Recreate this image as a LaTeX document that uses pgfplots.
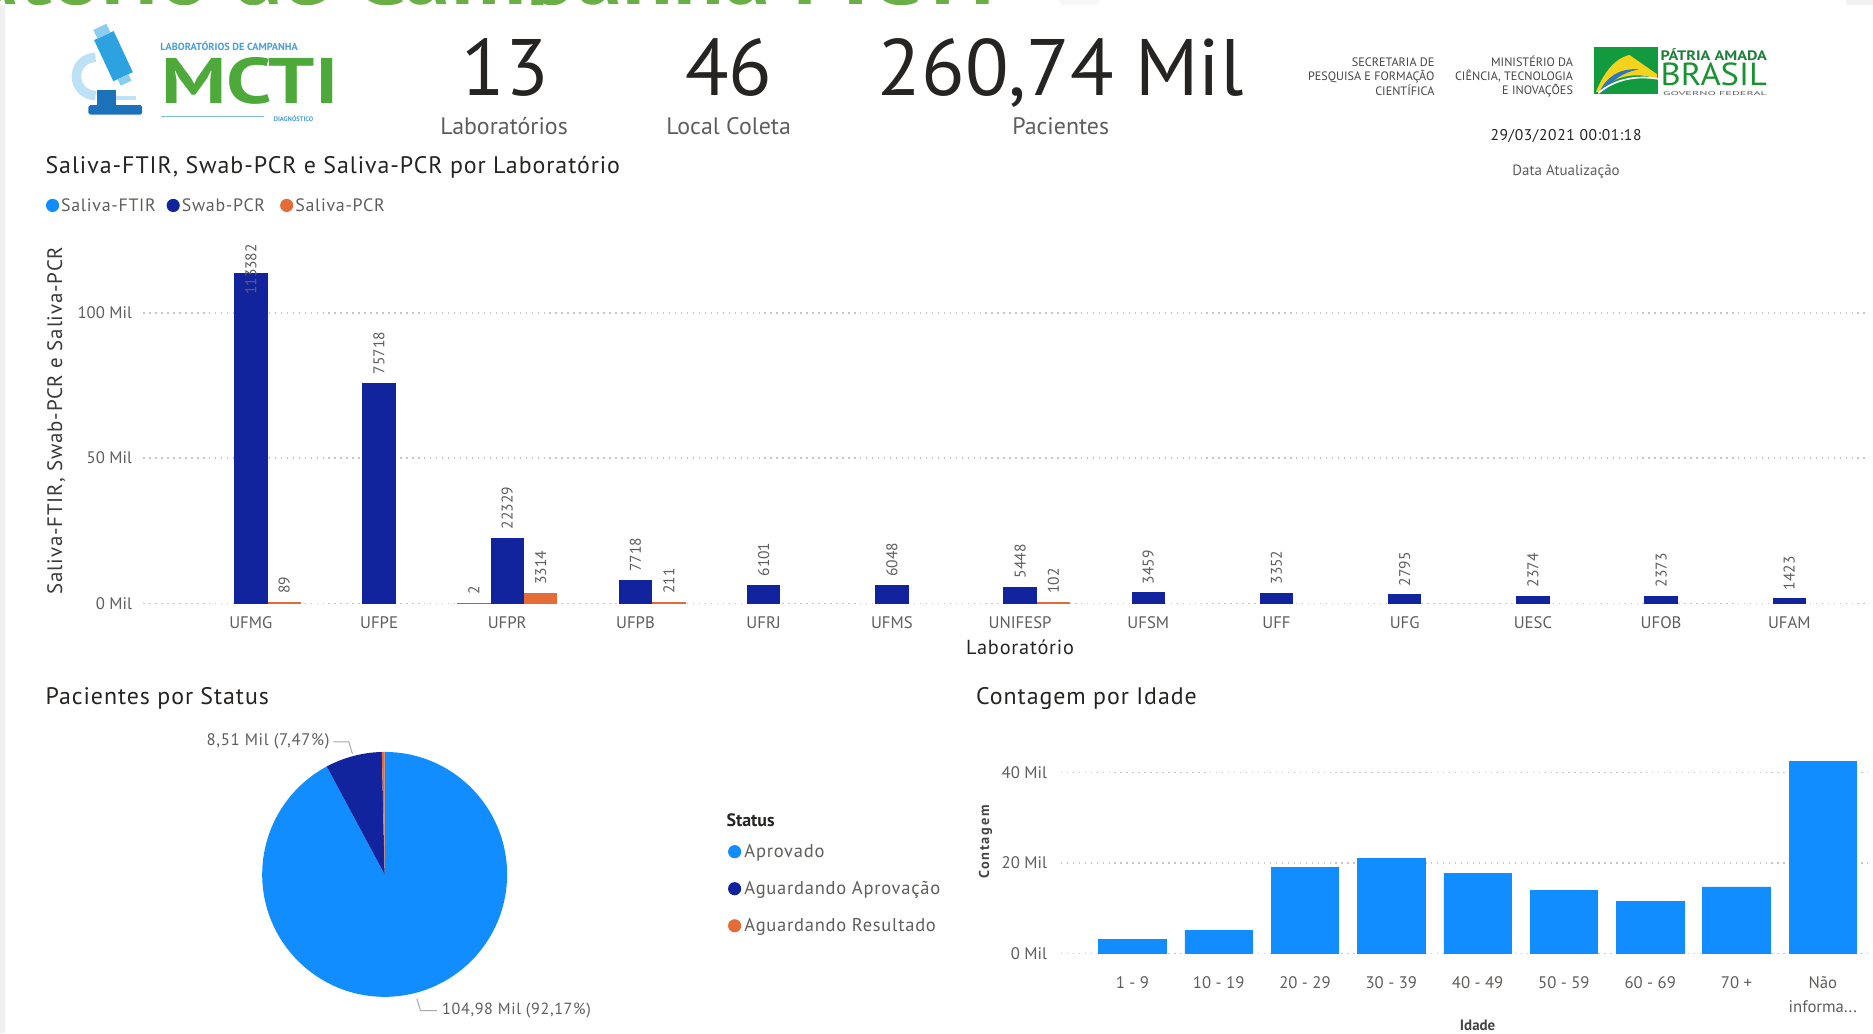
\documentclass[border=0pt]{standalone}
\usepackage{fontspec}
\setmainfont{PT Sans}
\newfontfamily\wide[LetterSpace=4]{PT Sans}
\newfontfamily\xwide[LetterSpace=12]{PT Sans}
\usepackage{pgfplots}
\pgfplotsset{compat=1.18}
\definecolor{cA}{HTML}{118DFF}
\definecolor{cB}{HTML}{12239E}
\definecolor{cC}{HTML}{E66C37}
\definecolor{txt}{HTML}{252423}
\definecolor{lab}{HTML}{605E5C}
\definecolor{gridc}{HTML}{C8C6C4}
\definecolor{tgreen}{HTML}{6AAF45}
\definecolor{mgreen}{HTML}{4DAA3A}
\definecolor{lblue}{HTML}{4A9FD8}
\definecolor{tube}{HTML}{2CA3E0}
\definecolor{arm}{HTML}{BDE2F6}
\definecolor{basec}{HTML}{1C72BA}
\definecolor{bgreen}{HTML}{1F7F3B}
\definecolor{fgreen}{HTML}{149A3E}
\definecolor{fyellow}{HTML}{F4D31C}
\definecolor{fblue}{HTML}{2E77BD}
\newcommand\fs[1]{\fontsize{#1}{#1}\selectfont}
\pgfplotsset{pbi/.style={scale only axis, ybar, clip=false,
  axis line style={draw=none}, major tick length=0pt, tick style={draw=none},
  scaled y ticks=false,
  ymajorgrids, grid style={draw=gridc, line width=1pt, dash pattern=on 1.2pt off 3.8pt},
  tick label style={text=lab, font=\fs{14}}}}
\begin{document}
\begin{tikzpicture}
\useasboundingbox (0,0) rectangle (1568pt,865pt);
\fill[white] (0,0) rectangle (1568pt,865pt);
\begin{scope}[x=1pt,y=-1pt,yshift=865pt]
% cut-off report title
\node[anchor=base east, inner sep=0, text=tgreen, font=\fs{78}\bfseries] at (834,3.8) {Relatório de Campanha MCTI};
\fill[black!3] (886,0) -- (921,0) -- (917,5) -- (890,5) -- cycle;
\fill[black!5] (1545,0) rectangle (1568,5);
\fill[white] (0,4.6) rectangle (1568,865);
\fill[black!6] (0,4.6) rectangle (4,865);
% microscope logo
\draw[arm, line width=8pt] (80,80) arc[start angle=90, end angle=270, radius=16];
\fill[arm] (92,80) rectangle (114,84);
\begin{scope}[shift={(95,47)}, rotate=25]
\fill[tube] (-9,-19) rectangle (9,19);
\fill[tube!55] (-6,-27) rectangle (6,-19);
\fill[tube!55] (-5,19) rectangle (5,25);
\end{scope}
\fill[basec] (81,75) rectangle (97,89);
\fill[basec, rounded corners=1.5pt] (74,88) rectangle (119,96);
\node[anchor=west, inner sep=0, text=lblue, font=\fs{8.6}\bfseries] at (134,38.5) {LABORATÓRIOS DE CAMPANHA};
\node[anchor=south west, inner sep=0, text=mgreen] at (135,87.5) {\resizebox{148pt}{38.5pt}{\bfseries MCTI}};
\draw[lblue!70, line width=1pt] (135,97.5) -- (221,97.5);
\node[anchor=west, inner sep=0, text=lblue, font=\fs{5.5}\bfseries] at (229,99) {DIAGNÓSTICO};
% KPI cards
\node[anchor=base, inner sep=0, text=txt, font=\fs{67}] at (423,80) {13};
\node[anchor=base, inner sep=0, text=txt, font=\fs{67}] at (610,80) {46};
\node[anchor=base, inner sep=0, text=txt, font=\fs{67}] at (888,80) {260,74 Mil};
\node[anchor=base, inner sep=0, text=lab, font=\fs{20}] at (422,113) {Laboratórios};
\node[anchor=base, inner sep=0, text=lab, font=\fs{20}] at (610,113) {Local Coleta};
\node[anchor=base, inner sep=0, text=lab, font=\fs{20}] at (888,113) {Pacientes};
% government logos
\node[anchor=east, align=right, inner sep=0, text=txt!85, font=\fontsize{10.2}{12}\selectfont] at (1201,64) {SECRETARIA DE\\PESQUISA E FORMAÇÃO\\CIENTÍFICA};
\node[anchor=east, align=right, inner sep=0, text=txt!85, font=\fontsize{10.2}{12}\selectfont] at (1317,64) {MINISTÉRIO DA\\CIÊNCIA, TECNOLOGIA\\E INOVAÇÕES};
\fill[fgreen] (1334,39) rectangle (1388,79);
\fill[fyellow] (1336,77) .. controls (1343,60) and (1352,49) .. (1364,46) -- (1387,62) -- (1387,66) .. controls (1370,60) and (1350,63) .. (1340,77) -- cycle;
\fill[fblue] (1339,77) .. controls (1345,64) and (1356,57) .. (1372,58) .. controls (1358,61) and (1349,67) .. (1344,77) -- cycle;
\draw[white, line width=1.4pt] (1338,78) .. controls (1352,66) and (1370,63) .. (1388,66);
\node[anchor=west, inner sep=0, text=bgreen] at (1390,45.5) {\resizebox{89pt}{10pt}{\bfseries PÁTRIA AMADA}};
\node[anchor=west, inner sep=0, text=bgreen!85!green] at (1390,62.5) {\resizebox{89pt}{19pt}{BRASIL}};
\node[anchor=west, inner sep=0, text=lab] at (1392,78.5) {\resizebox{87pt}{3.3pt}{GOVERNO FEDERAL}};
\node[anchor=center, inner sep=0, text=txt, font=\wide\fs{13}] at (1311,114) {29/03/2021 00:01:18};
\node[anchor=center, inner sep=0, text=lab, font=\fs{12.5}] at (1311,144) {Data Atualização};
% chart titles
\node[anchor=base west, inner sep=0, text=txt, font=\wide\fs{20}] at (38,145) {Saliva-FTIR, Swab-PCR e Saliva-PCR por Laboratório};
\node[anchor=base west, inner sep=0, text=txt, font=\wide\fs{20}] at (38,590) {Pacientes por Status};
\node[anchor=base west, inner sep=0, text=txt, font=\wide\fs{20}] at (817,590) {Contagem por Idade};
% legend chart 1
\fill[cA] (44,172) circle (5.5);
\node[anchor=west, inner sep=0, text=lab, font=\wide\fs{15}] at (51,172) {Saliva-FTIR};
\fill[cB] (145,172) circle (5.5);
\node[anchor=west, inner sep=0, text=lab, font=\wide\fs{15}] at (152,172) {Swab-PCR};
\fill[cC] (240,172) circle (5.5);
\node[anchor=west, inner sep=0, text=lab, font=\wide\fs{15}] at (247,172) {Saliva-PCR};
% axis titles chart 1
\node[rotate=90, inner sep=0, text=txt!90, font=\wide\fs{17.5}] at (47,352) {Saliva-FTIR, Swab-PCR e Saliva-PCR};
\node[inner sep=0, text=txt, font=\wide\fs{17}] at (854,542) {Laboratório};
% pie labels and legend
\draw[lab!55, line width=0.8pt] (279,621) -- (292,621) -- (295,631);
\node[anchor=east, inner sep=0, text=lab, font=\wide\fs{14}] at (276,621) {8,51 Mil (7,47\%)};
\draw[lab!55, line width=0.8pt] (349,836) -- (352,846) -- (366,846);
\node[anchor=west, inner sep=0, text=lab, font=\wide\fs{13.5}] at (370,846) {104,98 Mil (92,17\%)};
\node[anchor=west, inner sep=0, text=txt, font=\fs{15}\bfseries] at (608,687) {Status};
\fill[cA] (615,713) circle (5.5);
\node[anchor=west, inner sep=0, text=lab, font=\wide\fs{15.5}] at (623,714) {Aprovado};
\fill[cB] (615,744) circle (5.5);
\node[anchor=west, inner sep=0, text=lab, font=\wide\fs{15.5}] at (623,745) {Aguardando Aprovação};
\fill[cC] (615,775) circle (5.5);
\node[anchor=west, inner sep=0, text=lab, font=\wide\fs{15.5}] at (623,776) {Aguardando Resultado};
% axis titles chart 3
\node[rotate=90, inner sep=0, text=txt!85, font=\xwide\fs{12}\bfseries] at (825,705) {Contagem};
\node[inner sep=0, text=txt!85, font=\fs{12.5}\bfseries] at (1237,858) {Idade};
\end{scope}

% ---------- Chart 1: grouped bars per laboratory ----------
\begin{axis}[pbi, at={(120pt,360pt)}, anchor=south west,
  width=1445pt, height=305pt,
  xmin=-0.8385, xmax=12.625, ymin=0, ymax=125500,
  bar width=26.8pt,
  ytick={0,50000,100000}, yticklabels={0 Mil,50 Mil,100 Mil},
  yticklabel style={xshift=-6pt},
  xtick={0,1,2,3,4,5,6,7,8,9,10,11,12},
  xticklabels={UFMG,UFPE,UFPR,UFPB,UFRJ,UFMS,UNIFESP,UFSM,UFF,UFG,UESC,UFOB,UFAM},
  xticklabel style={yshift=-8pt},
  nodes near coords={\pgfmathprintnumber[fixed,precision=0,1000 sep={},assume math mode=true]{\pgfplotspointmeta}},
  every node near coord/.append style={rotate=90, anchor=west, font=\fs{13}, text=lab, inner xsep=7pt, inner ysep=0pt},
]
\addplot[fill=cA, draw=cA, line width=1.2pt, bar shift=-28pt] coordinates {(2,2)};
\addplot[fill=cB, draw=cB, line width=1.2pt, bar shift=0pt,
  coordinate style/.condition={\coordindex==0}{yshift=-25pt}] coordinates {
  (0,113382) (1,75718) (2,22329) (3,7718) (4,6101) (5,6048) (6,5448)
  (7,3459) (8,3352) (9,2795) (10,2374) (11,2373) (12,1423)};
\addplot[fill=cC, draw=cC, line width=1.2pt, bar shift=28pt] coordinates {
  (0,89) (2,3314) (3,211) (6,102)};
\end{axis}

% ---------- Chart 2: pie ----------
\pgfmathsetmacro\vA{104.98}
\pgfmathsetmacro\vB{8.51}
\pgfmathsetmacro\vC{0.41}
\pgfmathsetmacro\vT{\vA+\vB+\vC}
\pgfmathsetmacro\aEnd{90-360*(\vA/\vT)}
\pgfmathsetmacro\bEnd{90-360*((\vA+\vB)/\vT)}
\begin{axis}[at={(322pt,133pt)}, anchor=center, scale only axis, width=205pt, height=205pt,
  xmin=-1, xmax=1, ymin=-1, ymax=1, hide axis, clip=false]
\fill[cA] (axis cs:0,0) -- ++(90:102.5pt) arc[start angle=90, end angle=\aEnd, radius=102.5pt] -- cycle;
\fill[cB] (axis cs:0,0) -- ++(\aEnd:102.5pt) arc[start angle=\aEnd, end angle=\bEnd, radius=102.5pt] -- cycle;
\fill[cC] (axis cs:0,0) -- ++(\bEnd:102.5pt) arc[start angle=\bEnd, end angle=-270, radius=102.5pt] -- cycle;
\end{axis}

% ---------- Chart 3: count per age ----------
\begin{axis}[pbi, at={(888pt,67pt)}, anchor=south west,
  width=677pt, height=169.9pt,
  xmin=-0.83, xmax=8.54, ymin=0, ymax=45000,
  bar width=56.5pt,
  ytick={0,20000,40000}, yticklabels={0 Mil,20 Mil,40 Mil},
  yticklabel style={xshift=-8pt},
  xtick={0,1,2,3,4,5,6,7,8},
  xticklabels={1 - 9,10 - 19,20 - 29,30 - 39,40 - 49,50 - 59,60 - 69,70 +,{Não\\informa.{}.{}.}},
  xticklabel style={align=center, yshift=-16pt, font=\fontsize{14}{20}\selectfont},
]
\addplot[fill=cA, draw=cA, line width=0.5pt] coordinates {
  (0,2980) (1,5070) (2,19000) (3,21000) (4,17700) (5,13900) (6,11500) (7,14700) (8,42600)};
\end{axis}
\end{tikzpicture}
\end{document}
